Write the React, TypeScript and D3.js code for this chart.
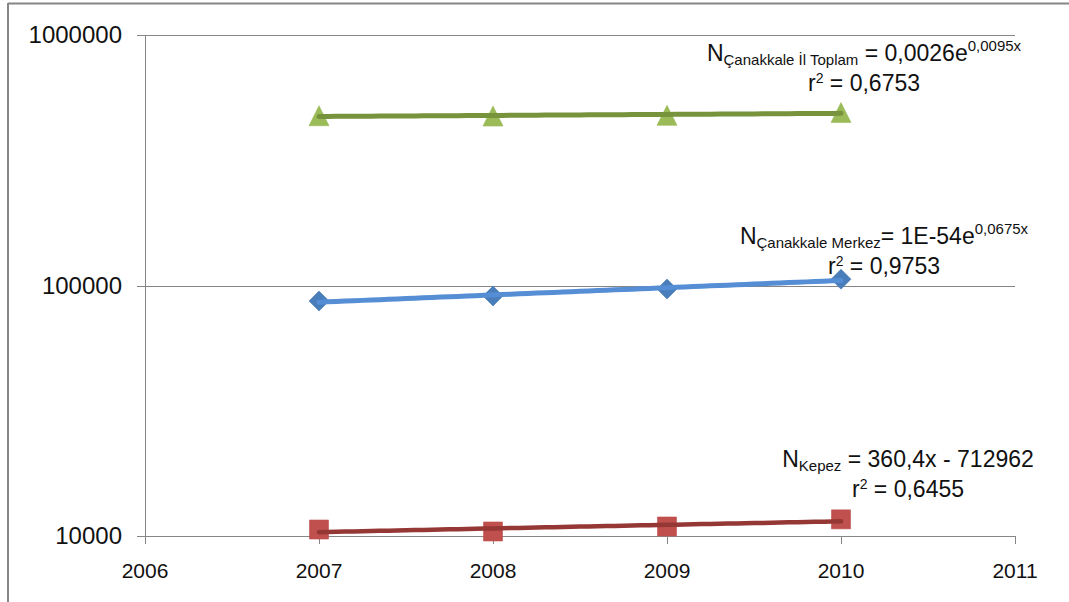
import React from 'react';
import * as d3 from 'd3';

// population values (log axis)
const years = [2007, 2008, 2009, 2010];
const ilToplam = [476128, 474791, 477735, 490397];
const merkez = [86700, 90800, 96800, 106000];
const kepez = [10614, 10424, 10914, 11654];

const xTicks = [2006, 2007, 2008, 2009, 2010, 2011];
const yTicks = [10000, 100000, 1000000];

// trendline labels
const eqNames = ['Çanakkale İl Toplam', 'Çanakkale Merkez', 'Kepez'];
const eqMain = [' = 0,0026e', '= 1E-54e', ' = 360,4x - 712962'];
const eqExp = ['0,0095x', '0,0675x', ''];
const eqR2 = ['0,6753', '0,9753', '0,6455'];

const W = 1069;
const H = 602;
const FONT = '"Liberation Sans", Arial, sans-serif';
const GREY = '#868686';

// least squares helpers (what Excel does for trendlines)
const linFit = (xs: number[], ys: number[]) => {
  const mx = d3.mean(xs) as number;
  const my = d3.mean(ys) as number;
  let num = 0;
  let den = 0;
  xs.forEach((x, i) => {
    num += (x - mx) * (ys[i] - my);
    den += (x - mx) * (x - mx);
  });
  const b = num / den;
  return (x: number) => my + b * (x - mx);
};
const expFit = (xs: number[], ys: number[]) => {
  const f = linFit(xs, ys.map((v) => Math.log(v)));
  return (x: number) => Math.exp(f(x));
};

const triangle = (cx: number, cy: number, s: number) =>
  `M${cx},${cy - s / 2}L${cx + s / 2},${cy + s / 2}L${cx - s / 2},${cy + s / 2}Z`;
const diamond = (cx: number, cy: number, s: number) =>
  `M${cx},${cy - s / 2}L${cx + s / 2},${cy}L${cx},${cy + s / 2}L${cx - s / 2},${cy}Z`;
const square = (cx: number, cy: number, s: number) =>
  `M${cx - s / 2},${cy - s / 2}h${s}v${s}h${-s}Z`;

const App = () => {
  const x = d3.scaleLinear().domain([2006, 2011]).range([145, 1015]);
  const y = d3.scaleLog().domain([10000, 1000000]).range([536, 35]);

  const samples = d3.range(2007, 2010.0001, 0.05);
  const line = d3
    .line<[number, number]>()
    .x((d) => x(d[0]))
    .y((d) => y(d[1]));

  const series = [
    {
      values: ilToplam,
      fit: expFit(years, ilToplam),
      marker: triangle,
      size: 20,
      fill: '#9BBB59',
      trend: '#77933C',
      width: 5,
    },
    {
      values: merkez,
      fit: expFit(years, merkez),
      marker: diamond,
      size: 20,
      fill: '#4A7EBB',
      trend: '#558ED5',
      width: 5,
    },
    {
      values: kepez,
      fit: linFit(years, kepez),
      marker: square,
      size: 19,
      fill: '#C0504D',
      trend: '#953735',
      width: 4.5,
    },
  ];

  // label placement: centre x and baseline of first line
  const labelPos = [
    { cx: 864, y: 61 },
    { cx: 884, y: 244 },
    { cx: 908, y: 467 },
  ];

  return (
    <svg
      width={W}
      height={H}
      style={{ position: 'absolute', left: 0, top: 0, background: '#fff' }}
      fontFamily={FONT}
    >
      {/* chart border */}
      <line x1={8} x2={W} y1={3.5} y2={3.5} stroke={GREY} strokeWidth={2} />
      <line x1={8} x2={8} y1={3} y2={H} stroke={GREY} strokeWidth={2} />

      {/* gridlines */}
      {yTicks.slice(1).map((t) => (
        <line
          key={t}
          x1={x(2006)}
          x2={x(2011)}
          y1={Math.round(y(t)) + 0.5}
          y2={Math.round(y(t)) + 0.5}
          stroke={GREY}
        />
      ))}

      {/* axes */}
      <line
        x1={x(2006) + 0.5}
        x2={x(2006) + 0.5}
        y1={y(1000000)}
        y2={y(10000)}
        stroke={GREY}
      />
      <line
        x1={x(2006)}
        x2={x(2011)}
        y1={Math.round(y(10000)) + 0.5}
        y2={Math.round(y(10000)) + 0.5}
        stroke={GREY}
      />
      {yTicks.map((t) => (
        <g key={t}>
          <line
            x1={x(2006) - 8}
            x2={x(2006)}
            y1={Math.round(y(t)) + 0.5}
            y2={Math.round(y(t)) + 0.5}
            stroke={GREY}
          />
          <text
            x={122}
            y={y(t)}
            dy="0.35em"
            textAnchor="end"
            fontSize={24}
            fill="#111"
          >
            {t}
          </text>
        </g>
      ))}
      {xTicks.map((t) => (
        <g key={t}>
          <line
            x1={Math.round(x(t)) + 0.5}
            x2={Math.round(x(t)) + 0.5}
            y1={y(10000)}
            y2={y(10000) + 8}
            stroke={GREY}
          />
          <text x={x(t)} y={578} textAnchor="middle" fontSize={21} fill="#111">
            {t}
          </text>
        </g>
      ))}

      {/* markers */}
      {series.map((s, i) =>
        s.values.map((v, j) => (
          <path
            key={`${i}-${j}`}
            d={s.marker(x(years[j]), y(v), s.size)}
            fill={s.fill}
            stroke={s.fill}
            strokeOpacity={0.6}
            strokeWidth={1}
          />
        ))
      )}

      {/* trendlines */}
      {series.map((s, i) => (
        <path
          key={i}
          d={line(samples.map((t) => [t, s.fit(t)] as [number, number])) || ''}
          fill="none"
          stroke={s.trend}
          strokeWidth={s.width}
          strokeLinecap="round"
        />
      ))}

      {/* equations */}
      {labelPos.map((p, i) => (
        <g key={i} fill="#111">
          <text x={p.cx} y={p.y} textAnchor="middle" fontSize={23}>
            <tspan>N</tspan>
            <tspan fontSize={15} dy={4}>
              {eqNames[i]}
            </tspan>
            <tspan dy={-4}>{eqMain[i]}</tspan>
            {eqExp[i] && (
              <tspan fontSize={15} dy={-10}>
                {eqExp[i]}
              </tspan>
            )}
          </text>
          <text x={p.cx} y={p.y + 30} textAnchor="middle" fontSize={23}>
            <tspan>r</tspan>
            <tspan fontSize={14} dy={-8}>
              2
            </tspan>
            <tspan dy={8}>{` = ${eqR2[i]}`}</tspan>
          </text>
        </g>
      ))}
    </svg>
  );
};

export default App;
